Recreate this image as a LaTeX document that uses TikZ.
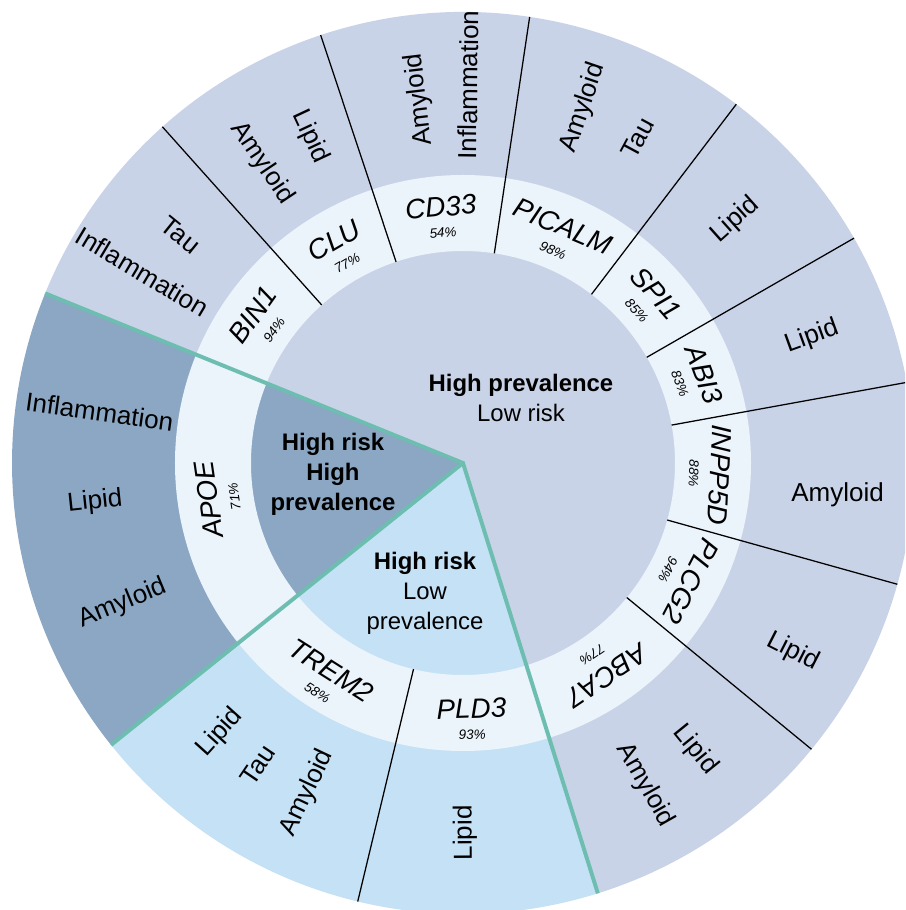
\documentclass[tikz,border=0pt]{standalone}
\usepackage{fontspec}
\setmainfont{Liberation Sans}
\definecolor{lowrisk}{HTML}{C9D3E8}
\definecolor{riskprev}{HTML}{8BA7C4}
\definecolor{risklow}{HTML}{C5E1F5}
\definecolor{ringfill}{HTML}{EBF3FB}
\definecolor{tealline}{HTML}{6DBEB0}
\tikzset{
  % --- text -------------------------------------------------------------
  gene/.style    ={inner sep=0pt, font=\fontsize{19.8}{22}\selectfont\itshape},
  pct/.style     ={inner sep=0pt, font=\fontsize{9.6}{11}\selectfont\itshape},
  pathway/.style ={inner sep=0pt, font=\fontsize{18.5}{22}\selectfont},
  zone/.style    ={align=center, inner sep=0pt, font=\fontsize{17}{21.3}\selectfont},
  % --- lines ------------------------------------------------------------
  sep/.style     ={draw=black, line width=0.9pt},
  border/.style  ={draw=tealline, line width=2.8pt},
}
\newcommand{\rin}{5.3}
\newcommand{\rmid}{7.2}
\newcommand{\rout}{11.275}

\begin{document}
\begin{tikzpicture}

  \useasboundingbox (-11.575,-11.175) rectangle (11.05,11.575);
  \clip (-11.575,-11.175) rectangle (11.05,11.575);
  \coordinate (hub) at (0,0);

  % ============================ sectors ============================
  \fill[lowrisk]  (hub) -- (-72.6:\rout) arc[start angle=-72.6, end angle=157.9, radius=\rout] -- cycle;
  \fill[riskprev] (hub) -- (157.9:\rout) arc[start angle=157.9, end angle=218.7, radius=\rout] -- cycle;
  \fill[risklow]  (hub) -- (218.7:\rout) arc[start angle=218.7, end angle=287.4, radius=\rout] -- cycle;

  % gene ring
  \fill[ringfill, even odd rule] (hub) circle[radius=\rmid] (hub) circle[radius=\rin];

  % ============================ gene boundaries ============================
  \foreach \a in {-39.4,-15.6,10.3,29.9,52.7,81.5,108.4,131.8,256.5}
    \draw[sep] (\a:\rin) -- (\a:\rout);

  % group borders
  \draw[border] (157.9:\rout) -- (hub) -- (287.4:\rout);
  \draw[border] (hub) -- (218.7:\rout);

  % ============================ genes (top outward) ============================
  \foreach \n/\a/\p in {ABCA7/-56.0/77, PLCG2/-27.5/94, INPP5D/-2.65/88,
                        ABI3/20.1/83, SPI1/41.3/85, PICALM/67.1/98,
                        CD33/94.95/54, CLU/120.1/77, BIN1/144.85/94, APOE/188.3/71}{
    \node[gene, rotate=\a-90] (g-\n) at (\a:6.425) {\n};
    \node[pct,  rotate=\a-90] (p-\n) at (\a:5.775) {\p\%};
  }
  % genes (top inward)
  \foreach \n/\a/\p in {TREM2/237.6/58, PLD3/271.95/93}{
    \node[gene, rotate=\a+90] (g-\n) at (\a:6.15) {\n};
    \node[pct,  rotate=\a+90] (p-\n) at (\a:6.8) {\p\%};
  }

  % ============================ pathways ============================
  \foreach \t/\a/\r/\rot [count=\i] in {
      Tau/141.1/9.075/-38.9, Inflammation/149.2/9.325/-30.8,
      Lipid/115.1/9.0/-64.9, Amyloid/123.8/9.025/-56.2,
      Amyloid/96.8/9.15/96.8, Inflammation/89.2/9.45/89.2,
      Amyloid/71.3/9.375/71.3, Tau/61.7/9.225/61.7,
      Lipid/41.8/9.125/41.8,
      Lipid/19.9/9.275/19.9,
      Amyloid/-4.9/9.4/0,
      Lipid/-29.8/9.5/-27,
      Lipid/-51.0/9.225/-51.0, Amyloid/-60.5/9.25/-60.5,
      Lipid/270.3/9.25/90.3,
      Lipid/228.0/9.075/48.0, Tau/235.8/9.125/55.8, Amyloid/244.7/9.125/64.7,
      Inflammation/172.0/9.175/-8.0, Lipid/186.0/9.25/6.0, Amyloid/202.4/9.2/22.4}
    \node[pathway, rotate=\rot] (t-\i) at (\a:\r) {\t};

  % ============================ groups ============================
  \node[zone] (zlow)  at (1.45,1.625)   {\textbf{High prevalence}\\Low risk};
  \node[zone, font=\fontsize{17}{21.3}\selectfont\bfseries] (zapoe) at (-3.25,-0.275)
    {High risk\\High\\prevalence};
  \node[zone] (ztrem) at (-0.95,-3.25)  {\textbf{High risk}\\Low\\prevalence};

\end{tikzpicture}
\end{document}
